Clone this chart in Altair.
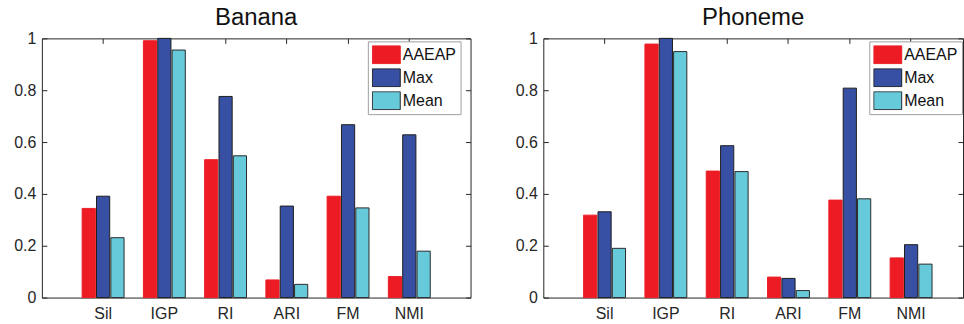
import altair as alt
import pandas as pd

metrics = ["Sil", "IGP", "RI", "ARI", "FM", "NMI"]
series_names = ["AAEAP", "Max", "Mean"]

banana_aaeap = [0.344, 0.991, 0.532, 0.068, 0.391, 0.081]
banana_max = [0.391, 1.000, 0.776, 0.353, 0.667, 0.628]
banana_mean = [0.231, 0.955, 0.547, 0.051, 0.346, 0.179]

phoneme_aaeap = [0.318, 0.978, 0.488, 0.079, 0.376, 0.153]
phoneme_max = [0.331, 1.000, 0.586, 0.074, 0.808, 0.204]
phoneme_mean = [0.190, 0.949, 0.486, 0.027, 0.381, 0.129]

y_ticks = [0, 0.2, 0.4, 0.6, 0.8, 1.0]

fill_colors = ["#ED1C24", "#3750A3", "#67CADB"]
stroke_colors = ["#ED1C24", "#1E1E1E", "#2A2A2A"]

FONT = "Liberation Sans"
AXC = "#262626"
H = 260


def make_df(a, m, me):
    rows = []
    for i, met in enumerate(metrics):
        for s, vals in zip(series_names, [a, m, me]):
            rows.append({"metric": met, "series": s, "value": vals[i]})
    return pd.DataFrame(rows)


def legend():
    return alt.Legend(title=None, orient="none", legendX=327, legendY=3,
                      symbolType="M-1,-0.643H1V0.643H-1Z", symbolSize=784,
                      symbolStrokeWidth=1, labelFontSize=16, labelFont=FONT,
                      labelColor="#111", labelOffset=2, rowPadding=4, clipHeight=19,
                      padding=4, strokeColor="#A0A0A0", fillColor="white")


def panel(title, df, W, po, align):
    xscale = alt.Scale(paddingInner=0.316, paddingOuter=po, align=align)
    yscale = alt.Scale(domain=[0, 1], nice=False, zero=True)
    xo = alt.XOffset("series:N", sort=series_names, scale=alt.Scale(paddingInner=0.08))

    main = alt.Chart(df).mark_bar(strokeWidth=1).encode(
        x=alt.X("metric:N", sort=metrics, scale=xscale, title=None,
                axis=alt.Axis(orient="bottom", ticks=False, tickSize=0, domain=False,
                              labelAngle=0, labelFontSize=16, labelPadding=8,
                              labelColor=AXC, labelFont=FONT)),
        xOffset=xo,
        y=alt.Y("value:Q", scale=yscale, title=None,
                axis=alt.Axis(orient="left", ticks=False, tickSize=0, domain=False, grid=False,
                              values=y_ticks, format="~g", labelFontSize=16, labelPadding=6,
                              labelColor=AXC, labelFont=FONT)),
        color=alt.Color("series:N", sort=series_names,
                        scale=alt.Scale(domain=series_names, range=fill_colors),
                        legend=legend()),
        stroke=alt.Stroke("series:N", sort=series_names,
                          scale=alt.Scale(domain=series_names, range=stroke_colors),
                          legend=legend()),
    )

    ticks_a = alt.Chart(df).mark_bar(opacity=0).encode(
        x=alt.X("metric:N", sort=metrics, scale=xscale, title=None,
                axis=alt.Axis(orient="top", offset=-H, labels=False, domain=False,
                              ticks=True, tickSize=5, tickColor=AXC, zindex=0)),
        xOffset=xo,
        y=alt.Y("value:Q", scale=yscale, title=None,
                axis=alt.Axis(orient="right", offset=-W, labels=False, domain=False, grid=False,
                              values=y_ticks, ticks=True, tickSize=5, tickColor=AXC, zindex=0)),
    )
    ticks_b = alt.Chart(df).mark_bar(opacity=0).encode(
        x=alt.X("metric:N", sort=metrics, scale=xscale, title=None,
                axis=alt.Axis(orient="bottom", offset=-H, labels=False, domain=False,
                              ticks=True, tickSize=5, tickColor=AXC, zindex=0)),
        xOffset=xo,
        y=alt.Y("value:Q", scale=yscale, title=None,
                axis=alt.Axis(orient="left", offset=-W, labels=False, domain=False, grid=False,
                              values=y_ticks, ticks=True, tickSize=5, tickColor=AXC, zindex=0)),
    )

    return alt.layer(main, ticks_a, ticks_b).resolve_axis(
        x="independent", y="independent"
    ).properties(
        width=W, height=H,
        title=alt.TitleParams(title, fontSize=24, font=FONT, fontWeight="normal",
                              color="#111", offset=0, anchor="middle"),
    )


left = panel("Banana", make_df(banana_aaeap, banana_max, banana_mean), 430, 0.658, 0.5)
right = panel("Phoneme", make_df(phoneme_aaeap, phoneme_max, phoneme_mean), 421, 0.581, 0.566)

chart = alt.hconcat(left, right, spacing=43).resolve_legend(
    color="independent", stroke="independent"
).configure(
    padding={"left": 13, "top": 5, "right": 0, "bottom": 0},
    background="white",
).configure_view(
    stroke=AXC, strokeWidth=1
)

chart.save("out.html", embed_options={"renderer": "svg", "actions": False})
